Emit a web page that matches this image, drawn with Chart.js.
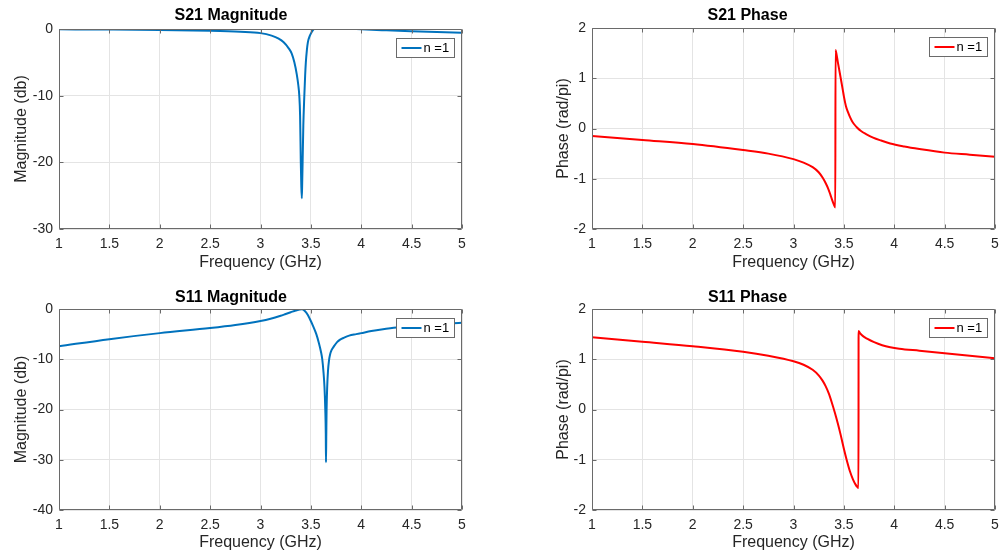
<!DOCTYPE html>
<html>
<head>
<meta charset="utf-8">
<title>S-parameter response</title>
<script src="https://cdn.jsdelivr.net/npm/chart.js@4/dist/chart.umd.min.js"></script>
<style>
  html, body { margin: 0; padding: 0; background: #ffffff; }
  #wrap { position: relative; width: 1003px; height: 560px; overflow: hidden; background: #ffffff; }
  .cell { position: absolute; }
  .cell canvas { display: block; }
</style>
</head>
<body>
<div id="wrap">
  <div class="cell" style="left:0px;top:0px;"><canvas id="s21mag" width="500" height="280"></canvas></div>
  <div class="cell" style="left:500px;top:0px;"><canvas id="s21phase" width="503" height="280"></canvas></div>
  <div class="cell" style="left:0px;top:280px;"><canvas id="s11mag" width="500" height="280"></canvas></div>
  <div class="cell" style="left:500px;top:280px;"><canvas id="s11phase" width="503" height="280"></canvas></div>
</div>
<script>
// ---- data (frequency in GHz) ----
const seriesLabel = 'n =1';
const freqTicks = [1, 1.5, 2, 2.5, 3, 3.5, 4, 4.5, 5];

// |S21| in dB
const s21MagFreq = [1.0, 1.5, 2.0, 2.5, 2.8, 3.0, 3.11, 3.18, 3.23, 3.28, 3.31, 3.336, 3.36, 3.375, 3.385, 3.393, 3.40, 3.405, 3.41, 3.414, 3.418, 3.425, 3.435, 3.443, 3.45, 3.46, 3.47, 3.49, 3.51, 3.53, 3.57, 3.62, 3.7, 3.8, 4.0, 4.25, 4.5, 4.75, 5.0];
const s21MagDb   = [-0.05, -0.08, -0.14, -0.27, -0.42, -0.62, -1.0, -1.45, -2.0, -2.9, -3.7, -5.0, -6.8, -8.4, -10, -13, -20, -23.5, -25.4, -23, -20, -14.5, -10, -7, -5.0, -3.2, -2.0, -1.0, -0.4, 0.0, 0.2, 0.25, 0.22, 0.12, -0.05, -0.2, -0.33, -0.45, -0.55];

// arg(S21) in rad/pi
const s21PhaseFreq = [1.0, 1.5, 2.0, 2.5, 2.75, 3.0, 3.1, 3.19, 3.25, 3.29, 3.32, 3.345, 3.365, 3.385, 3.40, 3.415, 3.417, 3.425, 3.44, 3.46, 3.475, 3.49, 3.50, 3.52, 3.54, 3.56, 3.58, 3.60, 3.63, 3.67, 3.72, 3.79, 3.87, 3.96, 4.1, 4.25, 4.5, 4.75, 5.0];
const s21PhaseVal  = [-0.15, -0.23, -0.31, -0.43, -0.5, -0.61, -0.68, -0.77, -0.87, -0.98, -1.09, -1.2, -1.31, -1.43, -1.51, -1.57, 1.56, 1.5, 1.32, 1.1, 0.93, 0.76, 0.64, 0.45, 0.33, 0.23, 0.15, 0.09, 0.02, -0.05, -0.11, -0.18, -0.24, -0.3, -0.36, -0.41, -0.48, -0.52, -0.56];

// |S11| in dB
const s11MagFreq = [1.0, 1.5, 2.0, 2.5, 2.75, 3.0, 3.1, 3.2, 3.25, 3.3, 3.35, 3.41, 3.44, 3.47, 3.49, 3.52, 3.554, 3.58, 3.6, 3.613, 3.625, 3.635, 3.643, 3.648, 3.65, 3.653, 3.656, 3.662, 3.67, 3.68, 3.69, 3.705, 3.73, 3.76, 3.79, 3.83, 3.88, 3.95, 4.0, 4.1, 4.2, 4.35, 4.5, 4.75, 5.0];
const s11MagDb   = [-7.4, -6.0, -4.8, -3.8, -3.2, -2.4, -1.95, -1.35, -1.0, -0.65, -0.3, -0.05, -0.4, -1.2, -2.0, -3.3, -5.0, -6.8, -8.5, -10, -12.5, -15.5, -20, -25, -30.5, -25, -20, -15.5, -12.3, -10.2, -9.1, -8.2, -7.4, -6.6, -6.1, -5.7, -5.3, -5.0, -4.8, -4.4, -4.1, -3.7, -3.4, -3.0, -2.75];

// arg(S11) in rad/pi
const s11PhaseFreq = [1.0, 1.5, 2.0, 2.5, 2.75, 3.0, 3.1, 3.19, 3.25, 3.29, 3.32, 3.35, 3.38, 3.41, 3.44, 3.47, 3.50, 3.53, 3.56, 3.59, 3.615, 3.635, 3.645, 3.646, 3.66, 3.69, 3.73, 3.8, 3.88, 3.96, 4.05, 4.25, 4.5, 4.75, 5.0];
const s11PhaseVal  = [1.44, 1.35, 1.26, 1.15, 1.07, 0.96, 0.89, 0.79, 0.68, 0.57, 0.46, 0.32, 0.14, -0.06, -0.28, -0.52, -0.78, -1.02, -1.23, -1.39, -1.49, -1.545, -1.56, 1.56, 1.52, 1.46, 1.41, 1.34, 1.28, 1.24, 1.21, 1.17, 1.12, 1.07, 1.02];

// ---- styling ----
Chart.defaults.font.family = "'Liberation Sans', Arial, Helvetica, sans-serif";
const AXIS_INK = '#262626';
const GRID_INK = '#e4e4e4';
const BOX_INK = '#6a6a6a';

// Axes frame with inward tick marks on all four sides
const axesBox = {
  id: 'axesBox',
  afterDatasetsDraw(chart) {
    const { ctx, chartArea: a, scales } = chart;
    const xs = scales.x, ys = scales.y;
    const L = Math.round(a.left) + 0.5, R = Math.round(a.right) - 0.5;
    const T = Math.round(a.top) + 0.5, B = Math.round(a.bottom) - 0.5;
    const tl = 4;
    ctx.save();
    ctx.strokeStyle = BOX_INK;
    ctx.lineWidth = 1;
    ctx.beginPath();
    ctx.rect(L, T, R - L, B - T);
    xs.ticks.forEach(t => {
      const p = Math.round(xs.getPixelForValue(t.value)) + 0.5;
      ctx.moveTo(p, B); ctx.lineTo(p, B - tl);
      ctx.moveTo(p, T); ctx.lineTo(p, T + tl);
    });
    ys.ticks.forEach(t => {
      const p = Math.round(ys.getPixelForValue(t.value)) + 0.5;
      ctx.moveTo(L, p); ctx.lineTo(L + tl, p);
      ctx.moveTo(R, p); ctx.lineTo(R - tl, p);
    });
    ctx.stroke();
    ctx.restore();
  }
};

// Legend box placed inside the plot, top-right corner
const innerLegend = {
  id: 'innerLegend',
  afterDatasetsDraw(chart) {
    const { ctx, chartArea: a } = chart;
    const ds = chart.data.datasets[0];
    const w = 58, h = 19;
    const x = Math.round(a.right) - 8 - w + 0.5;
    const y = Math.round(a.top) + 9 + 0.5;
    ctx.save();
    ctx.fillStyle = '#ffffff';
    ctx.fillRect(x, y, w, h);
    ctx.strokeStyle = BOX_INK;
    ctx.lineWidth = 1;
    ctx.strokeRect(x, y, w, h);
    ctx.strokeStyle = ds.borderColor;
    ctx.lineWidth = 2;
    ctx.beginPath();
    ctx.moveTo(x + 5, y + h / 2);
    ctx.lineTo(x + 25, y + h / 2);
    ctx.stroke();
    ctx.fillStyle = '#000000';
    ctx.font = "13px 'Liberation Sans', Arial, sans-serif";
    ctx.textBaseline = 'middle';
    ctx.textAlign = 'left';
    ctx.fillText(ds.label, x + 27, y + h / 2 + 0.5);
    ctx.restore();
  }
};

function makePanel(id, p) {
  const points = p.xs.map((f, i) => ({ x: f, y: p.ys[i] }));
  return new Chart(document.getElementById(id), {
    type: 'line',
    data: {
      datasets: [{
        label: seriesLabel,
        data: points,
        borderColor: p.color,
        backgroundColor: p.color,
        borderWidth: 2,
        pointRadius: 0,
        fill: false,
        cubicInterpolationMode: 'monotone'
      }]
    },
    options: {
      responsive: false,
      animation: false,
      devicePixelRatio: 1,
      layout: { padding: { left: 0, right: p.padRight, top: 0, bottom: 0 } },
      plugins: {
        legend: { display: false },
        tooltip: { enabled: false },
        title: {
          display: true,
          text: p.title,
          color: '#000000',
          font: { size: 16, weight: 'bold' },
          padding: { top: p.titleTop, bottom: p.titleBottom }
        }
      },
      scales: {
        x: {
          type: 'linear',
          min: freqTicks[0],
          max: freqTicks[freqTicks.length - 1],
          afterBuildTicks(s) { s.ticks = freqTicks.map(v => ({ value: v })); },
          ticks: { color: AXIS_INK, font: { size: 14 }, padding: 7, maxRotation: 0, autoSkip: false, callback: v => String(v) },
          grid: { color: GRID_INK, lineWidth: 1, drawTicks: false },
          border: { display: false },
          title: {
            display: true,
            text: 'Frequency (GHz)',
            color: AXIS_INK,
            font: { size: 16 },
            padding: { top: 0, bottom: 7.5 }
          },
          afterFit(s) { s.height = p.xAxisH; s.paddingLeft = 0; s.paddingRight = 0; }
        },
        y: {
          type: 'linear',
          min: p.yTicks[0],
          max: p.yTicks[p.yTicks.length - 1],
          afterBuildTicks(s) { s.ticks = p.yTicks.map(v => ({ value: v })); },
          ticks: { color: AXIS_INK, font: { size: 14 }, padding: 6, autoSkip: false, callback: v => String(v) },
          grid: { color: GRID_INK, lineWidth: 1, drawTicks: false },
          border: { display: false },
          title: {
            display: true,
            text: p.yTitle,
            color: AXIS_INK,
            font: { size: 16 },
            padding: { top: p.yTitleOffset, bottom: 0 }
          },
          afterFit(s) { s.width = p.yAxisW; s.paddingTop = 0; s.paddingBottom = 0; }
        }
      }
    },
    plugins: [axesBox, innerLegend]
  });
}

const magTicksS21 = [-30, -20, -10, 0];
const magTicksS11 = [-40, -30, -20, -10, 0];
const phaseTicks = [-2, -1, 0, 1, 2];
const BLUE = '#0072BD';
const RED = '#FF0000';

makePanel('s21mag', {
  xs: s21MagFreq, ys: s21MagDb, color: BLUE, title: 'S21 Magnitude',
  yTitle: 'Magnitude (db)', yTicks: magTicksS21,
  padRight: 38, yAxisW: 59, xAxisH: 51, titleTop: 6.4, titleBottom: 3.4, yTitleOffset: 12.4
});
makePanel('s21phase', {
  xs: s21PhaseFreq, ys: s21PhaseVal, color: RED, title: 'S21 Phase',
  yTitle: 'Phase (rad/pi)', yTicks: phaseTicks,
  padRight: 8, yAxisW: 92, xAxisH: 51, titleTop: 6.4, titleBottom: 2.4, yTitleOffset: 54.4
});
makePanel('s11mag', {
  xs: s11MagFreq, ys: s11MagDb, color: BLUE, title: 'S11 Magnitude',
  yTitle: 'Magnitude (db)', yTicks: magTicksS11,
  padRight: 38, yAxisW: 59, xAxisH: 50, titleTop: 8.4, titleBottom: 1.4, yTitleOffset: 12.4
});
makePanel('s11phase', {
  xs: s11PhaseFreq, ys: s11PhaseVal, color: RED, title: 'S11 Phase',
  yTitle: 'Phase (rad/pi)', yTicks: phaseTicks,
  padRight: 8, yAxisW: 92, xAxisH: 50, titleTop: 8.4, titleBottom: 1.4, yTitleOffset: 54.4
});
</script>
</body>
</html>
